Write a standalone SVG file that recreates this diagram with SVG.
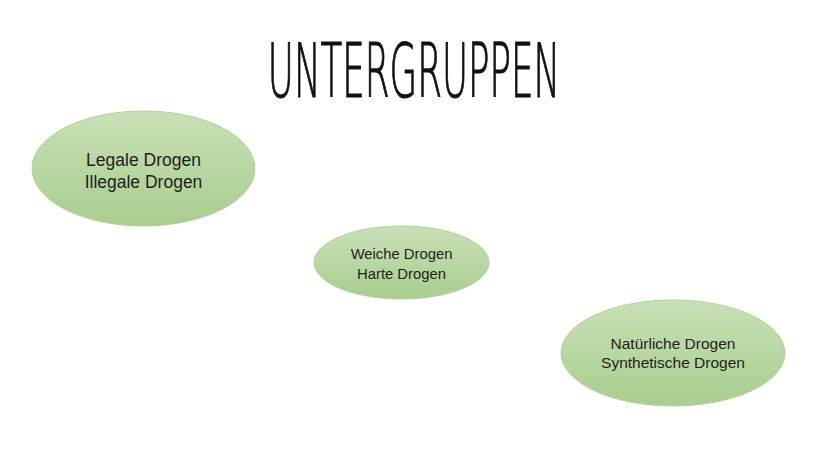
<svg xmlns="http://www.w3.org/2000/svg" width="828" height="466" viewBox="0 0 828 466">
<defs>
<linearGradient id="g" x1="0" y1="0" x2="0" y2="1">
<stop offset="0" stop-color="#c8e0b6"/>
<stop offset="1" stop-color="#a8ce8e"/>
</linearGradient>
<style>
.n{fill:url(#g);stroke:#b2d29c;stroke-width:1}
.t{font-family:"Liberation Sans",Arial,sans-serif;fill:#1e1e1e;text-anchor:middle}
.title{font-family:"DejaVu Sans",sans-serif;font-weight:200;fill:#111;stroke:#111;stroke-width:1.2;text-anchor:middle}
</style>
</defs>
<rect width="828" height="466" fill="#fff"/>
<g transform="translate(414 97) scale(0.475 1)">
<text class="title" x="0" y="0" font-size="75">UNTERGRUPPEN</text>
</g>
<g id="connectors"></g>
<g id="node1">
<ellipse class="n" cx="143.5" cy="168.5" rx="111.5" ry="57.5"/>
<text class="t" x="143.5" y="166" font-size="17.5">Legale Drogen</text>
<text class="t" x="143.5" y="187.5" font-size="17.5">Illegale Drogen</text>
</g>
<g id="node2">
<ellipse class="n" cx="401.5" cy="262.5" rx="87.5" ry="36.5"/>
<text class="t" x="401.5" y="258.5" font-size="14.8">Weiche Drogen</text>
<text class="t" x="401.5" y="278.5" font-size="14.8">Harte Drogen</text>
</g>
<g id="node3">
<ellipse class="n" cx="673" cy="353" rx="112" ry="53"/>
<text class="t" x="673" y="348.5" font-size="15.5">Natürliche Drogen</text>
<text class="t" x="673" y="367.5" font-size="15.5">Synthetische Drogen</text>
</g>
</svg>
